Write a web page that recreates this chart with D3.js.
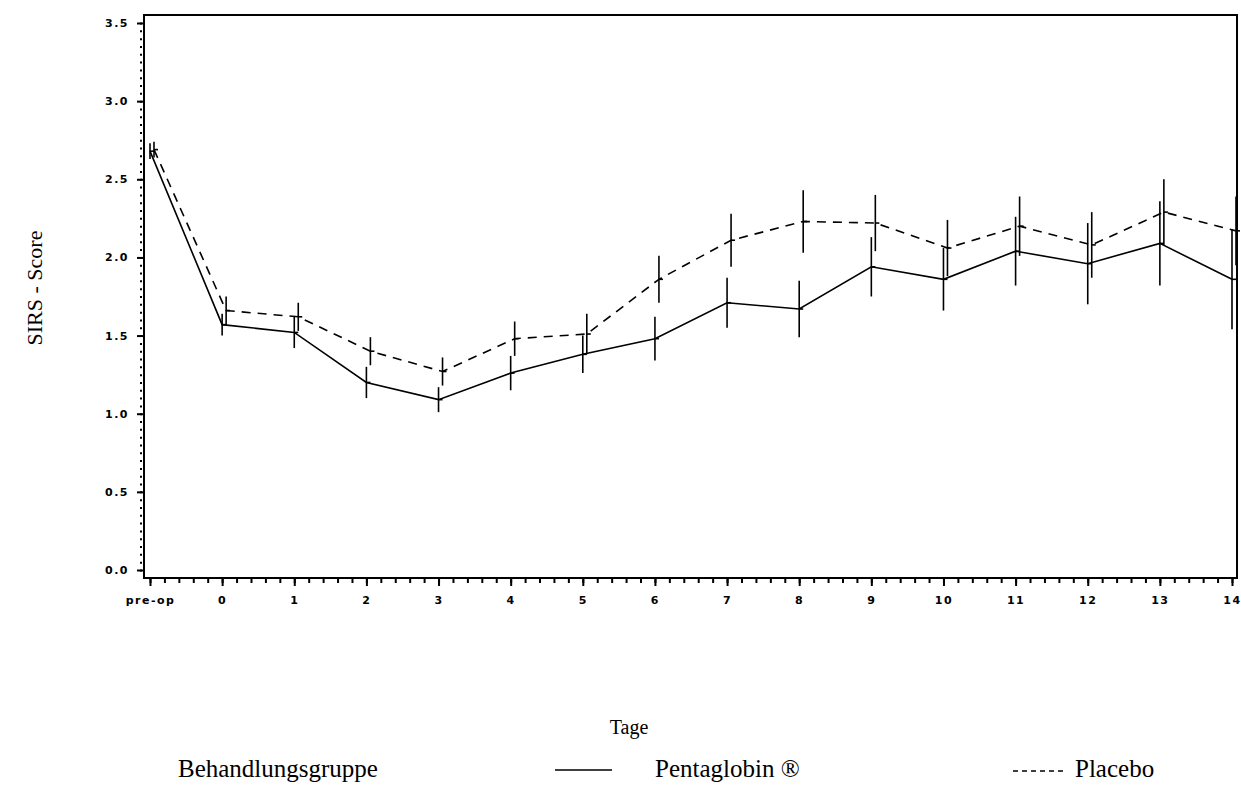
<!DOCTYPE html>
<html>
<head>
<meta charset="utf-8">
<script src="https://cdn.jsdelivr.net/npm/d3@7"></script>
<style>
  body { margin: 0; background: #fff; }
  .tick text { font-family: "DejaVu Sans", sans-serif; font-weight: bold; font-size: 11px; }
  .ttl { font-family: "Liberation Serif", "Times New Roman", serif; font-size: 20px; fill: #000; }
</style>
</head>
<body>
<div></div>
<script>
// datos
var tage = ['pre-op', '0', '1', '2', '3', '4', '5', '6', '7', '8', '9', '10', '11', '12', '13', '14']
var pentaMean = [2.68, 1.57, 1.52, 1.20, 1.09, 1.26, 1.38, 1.48, 1.71, 1.67, 1.94, 1.86, 2.04, 1.96, 2.09, 1.86]
var pentaErr  = [0.05, 0.07, 0.10, 0.10, 0.08, 0.11, 0.12, 0.14, 0.16, 0.18, 0.19, 0.20, 0.22, 0.26, 0.27, 0.32]
var placMean  = [2.69, 1.66, 1.62, 1.40, 1.27, 1.48, 1.51, 1.86, 2.11, 2.23, 2.22, 2.06, 2.20, 2.08, 2.29, 2.17]
var placErr   = [0.05, 0.09, 0.09, 0.09, 0.09, 0.11, 0.13, 0.15, 0.17, 0.20, 0.18, 0.18, 0.19, 0.21, 0.21, 0.22]
var yTicks = [0, 0.5, 1.0, 1.5, 2.0, 2.5, 3.0, 3.5]

var width = 1241
var height = 785
var pleft = 144, pright = 1237, ptop = 15, pbottom = 578

var svg = d3.select('div')
    .append('svg')
    .attr('width', width)
    .attr('height', height)

var x = d3.scaleLinear().domain([0, tage.length - 1]).range([150, 1232])
var y = d3.scaleLinear().domain([0, 3.5]).range([570, 23])

// ejes
var yaxis = d3.axisLeft(y).tickValues(yTicks).tickSize(7).tickPadding(8).tickFormat(d3.format('.1f'))
var yminor = d3.axisLeft(y).tickValues(d3.range(0, 71).map((i) => i * 0.05)).tickSize(3).tickFormat('')
var xaxis = d3.axisBottom(x).tickValues(d3.range(0, tage.length)).tickSize(8).tickPadding(10)
    .tickFormat((d) => tage[d])
var xminor = d3.axisBottom(x).tickValues(d3.range(0, 76).map((i) => i * 0.2)).tickSize(5).tickFormat('')

svg.append('g').attr('transform', 'translate(' + (pleft - 2) + ',0)').call(yminor)
    .call((g) => g.select('.domain').remove())
    .selectAll('line').attr('stroke-width', 2).attr('stroke-dasharray', '2,1')
svg.append('g').attr('transform', 'translate(' + pleft + ',0)').call(yaxis)
    .call((g) => g.select('.domain').remove())
    .selectAll('line').attr('stroke-width', 2)
svg.append('g').attr('transform', 'translate(0,' + pbottom + ')').call(xminor)
    .call((g) => g.select('.domain').remove())
    .selectAll('line').attr('stroke-width', 2)
svg.append('g').attr('transform', 'translate(0,' + pbottom + ')').call(xaxis)
    .call((g) => g.select('.domain').remove())
    .selectAll('line').attr('stroke-width', 2)

svg.selectAll('.tick text').attr('fill', '#000').style('letter-spacing', '1.5px')

// marco
svg.append('rect')
    .attr('x', pleft).attr('y', ptop)
    .attr('width', pright - pleft).attr('height', pbottom - ptop)
    .attr('fill', 'none').attr('stroke', '#000').attr('stroke-width', 2)

// series
var series = [
    { mean: pentaMean, err: pentaErr, dx: 0, dash: null },
    { mean: placMean, err: placErr, dx: 4, dash: '9,7' }
]

series.forEach((s) => {
    var line = d3.line()
        .x((d, i) => x(i) + s.dx)
        .y((d) => y(d))
    svg.append('path')
        .datum(s.mean)
        .attr('d', line)
        .attr('fill', 'none')
        .attr('stroke', '#000')
        .attr('stroke-width', 1.6)
        .attr('stroke-dasharray', s.dash)

    svg.append('g')
        .selectAll('line')
        .data(s.mean)
        .enter()
        .append('line')
        .attr('x1', (d, i) => x(i) + s.dx)
        .attr('x2', (d, i) => x(i) + s.dx)
        .attr('y1', (d, i) => y(d + s.err[i]))
        .attr('y2', (d, i) => y(d - s.err[i]))
        .attr('stroke', '#000')
        .attr('stroke-width', 1.6)

    svg.append('g')
        .selectAll('line')
        .data(s.mean)
        .enter()
        .append('line')
        .attr('x1', (d, i) => x(i) + s.dx)
        .attr('x2', (d, i) => x(i) + s.dx + 4)
        .attr('y1', (d) => y(d))
        .attr('y2', (d) => y(d))
        .attr('stroke', '#000')
        .attr('stroke-width', 1.6)
})

// titulos
svg.append('text').attr('class', 'ttl')
    .attr('transform', 'translate(42,288) rotate(-90)')
    .attr('text-anchor', 'middle')
    .style('font-size', '22px')
    .text('SIRS - Score')

svg.append('text').attr('class', 'ttl')
    .attr('x', 629).attr('y', 734)
    .attr('text-anchor', 'middle')
    .text('Tage')

// leyenda
var leg = svg.append('g')
leg.append('text').attr('class', 'ttl').attr('x', 178).attr('y', 777).style('font-size', '25px').text('Behandlungsgruppe')
leg.append('line').attr('x1', 555).attr('x2', 612).attr('y1', 770).attr('y2', 770)
    .attr('stroke', '#000').attr('stroke-width', 1.6)
leg.append('text').attr('class', 'ttl').attr('x', 655).attr('y', 777).style('font-size', '25px').text('Pentaglobin ®')
leg.append('line').attr('x1', 1013).attr('x2', 1063).attr('y1', 771).attr('y2', 771)
    .attr('stroke', '#000').attr('stroke-width', 1.6).attr('stroke-dasharray', '5,4')
leg.append('text').attr('class', 'ttl').attr('x', 1075).attr('y', 777).style('font-size', '25px').text('Placebo')
</script>
</body>
</html>
